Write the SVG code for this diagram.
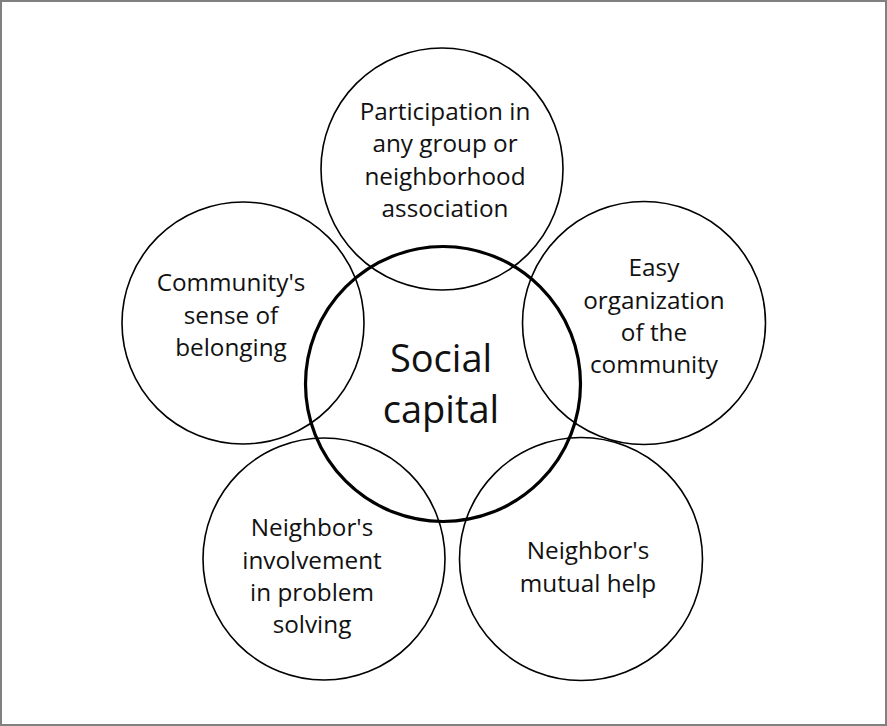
<svg xmlns="http://www.w3.org/2000/svg" width="887" height="726" viewBox="0 0 887 726">
<style>
.c{fill:none;stroke:#000;stroke-width:1.6}
.m{fill:none;stroke:#000;stroke-width:3.2}
.t{font-family:"Open Sans","Liberation Sans",sans-serif;font-size:24.3px;fill:#111;text-anchor:middle}
.b{font-family:"Open Sans","Liberation Sans",sans-serif;font-size:38px;fill:#111;text-anchor:middle}
</style>
<rect x="1" y="1" width="885" height="724" fill="#fff" stroke="#808080" stroke-width="2"/>
<g id="top"><circle class="c" cx="442" cy="169" r="121"/>
<text class="t"><tspan x="445" y="120">Participation in</tspan><tspan x="445" y="152">any group or</tspan><tspan x="445" y="185">neighborhood</tspan><tspan x="445" y="217">association</tspan></text></g>
<g id="left"><circle class="c" cx="243" cy="323" r="121"/>
<text class="t"><tspan x="231" y="291">Community's</tspan><tspan x="231" y="323.5">sense of</tspan><tspan x="231" y="356">belonging</tspan></text></g>
<g id="right"><circle class="c" cx="644" cy="323" r="121.5"/>
<text class="t"><tspan x="654" y="276">Easy</tspan><tspan x="654" y="308.5">organization</tspan><tspan x="654" y="340.5">of the</tspan><tspan x="654" y="372.5">community</tspan></text></g>
<g id="bottom-left"><circle class="c" cx="324" cy="559" r="121"/>
<text class="t"><tspan x="312" y="536">Neighbor's</tspan><tspan x="312" y="568.5">involvement</tspan><tspan x="312" y="601">in problem</tspan><tspan x="312" y="633">solving</tspan></text></g>
<g id="bottom-right"><circle class="c" cx="581" cy="559" r="121.5"/>
<text class="t"><tspan x="588" y="559">Neighbor's</tspan><tspan x="588" y="592">mutual help</tspan></text></g>
<g id="center"><circle class="m" cx="443" cy="384" r="137.5"/>
<text class="b"><tspan x="441" y="372">Social</tspan><tspan x="441" y="423">capital</tspan></text></g>
<g id="connectors"></g>
</svg>
